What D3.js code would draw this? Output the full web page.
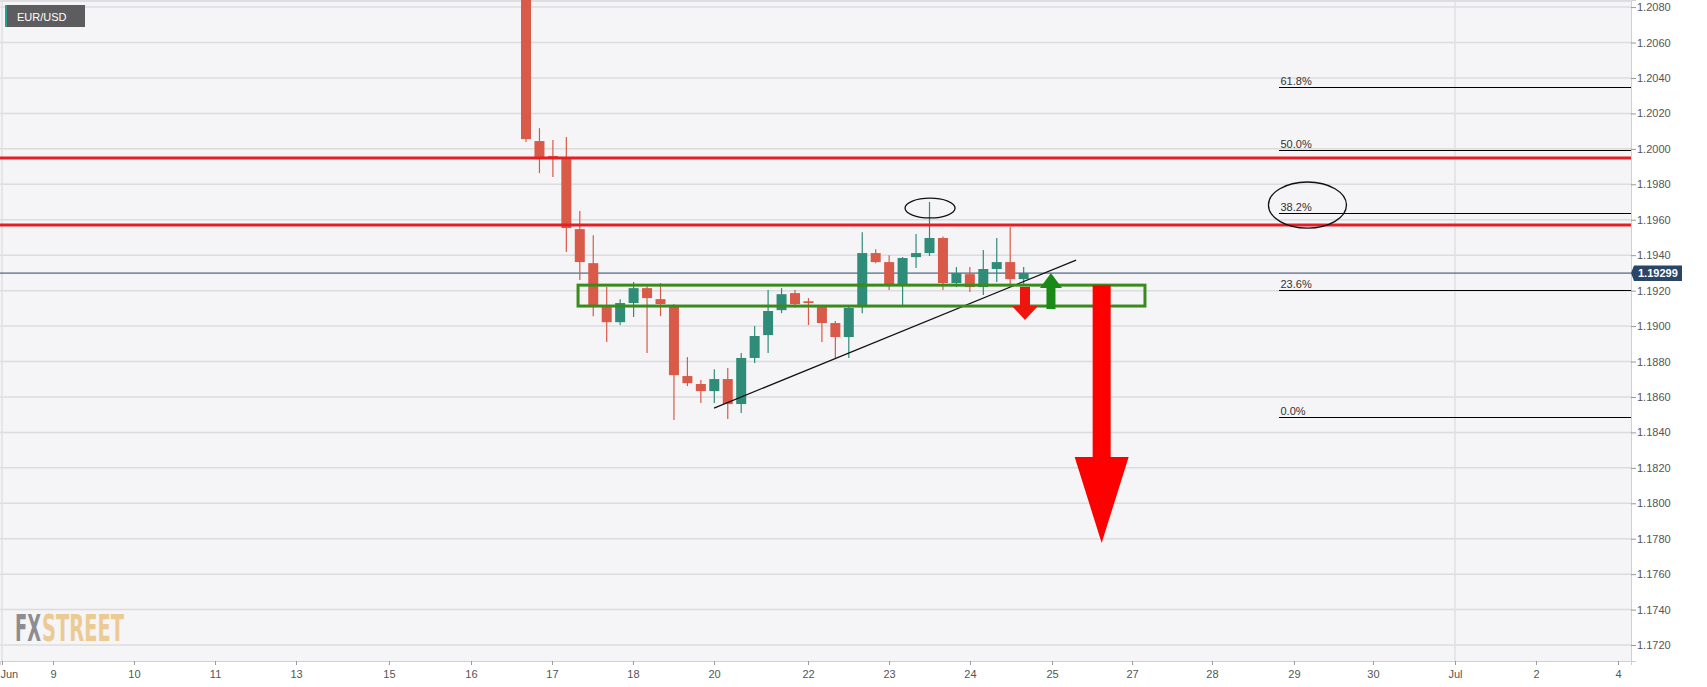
<!DOCTYPE html>
<html><head><meta charset="utf-8">
<script src="https://cdn.jsdelivr.net/npm/d3@7"></script>
<style>
body{margin:0;background:#fff;}
svg{display:block;font-family:"Liberation Sans",Arial,sans-serif;}
</style>
</head><body>
<svg id="chart" width="1707" height="687"></svg>
<script>
// ---- data (4H candles, bar index = array index) ----
const candleOpen  = [1.2125,1.20044,1.19960,1.19942,1.19547,1.19355,1.19107,1.19022,1.19130,1.19214,1.19152,1.19113,1.18718,1.18673,1.18633,1.18701,1.18560,1.18820,1.18949,1.19090,1.19186,1.19140,1.19107,1.19017,1.18938,1.19107,1.19412,1.19361,1.19231,1.19389,1.19412,1.19497,1.19243,1.19293,1.19220,1.19322,1.19361,1.19265];
const candleHigh  = [1.2130,1.20117,1.20050,1.20067,1.19649,1.19513,1.19220,1.19152,1.19248,1.19225,1.19243,1.19125,1.18825,1.18695,1.18757,1.18763,1.18848,1.19000,1.19203,1.19214,1.19203,1.19158,1.19118,1.19028,1.19107,1.19530,1.19434,1.19400,1.19390,1.19519,1.19700,1.19505,1.19333,1.19333,1.19429,1.19497,1.19559,1.19333];
const candleLow   = [1.20038,1.19863,1.19841,1.19418,1.19260,1.19056,1.18910,1.19006,1.19051,1.18848,1.19056,1.18470,1.18661,1.18566,1.18566,1.18475,1.18509,1.18791,1.18848,1.19073,1.19105,1.19006,1.18910,1.18820,1.18820,1.19073,1.19355,1.19203,1.19118,1.19327,1.19395,1.19203,1.19220,1.19192,1.19175,1.19248,1.19220,1.19231];
const candleClose = [1.20055,1.19954,1.19952,1.19553,1.19361,1.19118,1.19022,1.19130,1.19214,1.19158,1.19124,1.18723,1.18678,1.18633,1.18701,1.18560,1.18820,1.18944,1.19085,1.19180,1.19124,1.19130,1.19017,1.18938,1.19102,1.19412,1.19361,1.19231,1.19384,1.19412,1.19497,1.19243,1.19299,1.19220,1.19322,1.19361,1.19265,1.19299];

const xTickPos    = [-38.96,-35.17,-29.15,-23.12,-17.1,-10.19,-4.09,1.93,7.95,13.98,20.97,26.99,33.01,39.11,45.06,51.0,57.1,62.97,69.07,75.09,81.19];
const xTickLabels = ["Jun","9","10","11","13","15","16","17","18","20","22","23","24","25","27","28","29","30","Jul","2","4"];
const monthLines  = [-38.96, 69.07];

const yTicks = [1.1720,1.1740,1.1760,1.1780,1.1800,1.1820,1.1840,1.1860,1.1880,1.1900,1.1920,1.1940,1.1960,1.1980,1.2000,1.2020,1.2040,1.2060,1.2080];

const lastPrice = 1.19299;
const resistanceLevels = [1.19948, 1.19570];
const fibLabels = ["61.8%","50.0%","38.2%","23.6%","0.0%"];
const fibValues = [1.20349, 1.19993, 1.19638, 1.19203, 1.18487];
const fibStartBar = 56.02;

const trendStart = [13.98, 1.18537];
const trendEnd   = [40.9, 1.19372];

const zoneBars   = [3.87, 46.02];
const zonePrices = [1.19231, 1.19113];

// ellipses: [centre bar, centre price, half-width in bars, half-height in price]
const ellipseA = [30.04, 1.19666, 1.86, 0.00056];
const ellipseB = [58.1, 1.19683, 2.9, 0.0013];

// arrows: [bar, start price, tip price]
const arrowSmallDown = [37.1, 1.19220, 1.19034];
const arrowUp        = [39.03, 1.19096, 1.19299];
const arrowBigDown   = [42.8, 1.19231, 1.17776];

// ---- layout ----
const W = 1707, H = 687, plotR = 1631, plotB = 661;
const svg = d3.select("#chart");
const x = d3.scaleLinear().domain([-39.108, 82.156]).range([0, plotR]);
const y = d3.scaleLinear().domain([1.17110, 1.20840]).range([plotB, 0]);

svg.append("rect").attr("width", W).attr("height", H).attr("fill", "#ffffff");
svg.append("rect").attr("x", 0).attr("y", 0).attr("width", plotR).attr("height", plotB).attr("fill", "#f5f5f7");

svg.append("defs").append("clipPath").attr("id", "clip")
  .append("rect").attr("x", 0).attr("y", 0).attr("width", plotR).attr("height", plotB);

// gridlines
svg.append("g").selectAll("line").data(yTicks).join("line")
  .attr("x1", 0).attr("x2", plotR).attr("y1", d => y(d)).attr("y2", d => y(d))
  .attr("stroke", "#dcdcdf").attr("stroke-width", 1.5);
svg.append("g").selectAll("line").data(monthLines).join("line")
  .attr("x1", d => x(d)).attr("x2", d => x(d)).attr("y1", 0).attr("y2", plotB)
  .attr("stroke", "#e0e0e3").attr("stroke-width", 1.5);
svg.append("line").attr("x1", 0).attr("x2", plotR).attr("y1", 1).attr("y2", 1).attr("stroke", "#dddde2").attr("stroke-width", 2);

// watermark (narrowed with a transform so its real box matches the drawn width)
const wmFont = "'Liberation Sans Narrow','DejaVu Sans Condensed','Liberation Sans',sans-serif";
function wmText(str, x0, width, color) {
  const g = svg.append("g");
  const t = g.append("text").attr("x", 0).attr("y", 0).attr("font-family", wmFont)
    .attr("font-weight", "bold").attr("font-size", 37).attr("fill", color).text(str);
  const natural = t.node().getComputedTextLength();
  g.attr("transform", `translate(${x0},641) scale(${width / natural},1)`);
}
wmText("FX", 15, 26, "#8d8d91");
wmText("STREET", 42, 82, "#ebcb93");

// current price line
svg.append("line").attr("x1", 0).attr("x2", plotR).attr("y1", y(lastPrice)).attr("y2", y(lastPrice))
  .attr("stroke", "#2b4566").attr("stroke-width", 1);

// candles
const candles = candleOpen.map((o, i) => ({i, o, h: candleHigh[i], l: candleLow[i], c: candleClose[i]}));
const cg = svg.append("g").attr("clip-path", "url(#clip)");
const up = "#2f8c78", dn = "#d95a48";
cg.selectAll("line.wick").data(candles).join("line").attr("class", "wick")
  .attr("x1", d => x(d.i)).attr("x2", d => x(d.i))
  .attr("y1", d => y(d.h)).attr("y2", d => y(d.l))
  .attr("stroke", d => d.c >= d.o ? up : dn).attr("stroke-width", 1.2);
cg.selectAll("rect.body").data(candles).join("rect").attr("class", "body")
  .attr("x", d => x(d.i) - 5).attr("width", 10)
  .attr("y", d => y(Math.max(d.o, d.c)))
  .attr("height", d => Math.max(1, Math.abs(y(d.o) - y(d.c))))
  .attr("fill", d => d.c >= d.o ? up : dn);

// drawings
const dg = svg.append("g").attr("clip-path", "url(#clip)");
dg.selectAll("line.res").data(resistanceLevels).join("line").attr("class", "res")
  .attr("x1", 0).attr("x2", plotR).attr("y1", d => y(d)).attr("y2", d => y(d))
  .attr("stroke", "#e31e24").attr("stroke-width", 3);

dg.selectAll("line.fib").data(fibValues).join("line").attr("class", "fib")
  .attr("x1", x(fibStartBar)).attr("x2", plotR).attr("y1", d => Math.round(y(d)) + 0.5).attr("y2", d => Math.round(y(d)) + 0.5)
  .attr("stroke", "#000").attr("stroke-width", 1).attr("shape-rendering", "crispEdges");
dg.selectAll("text.fib").data(fibValues).join("text").attr("class", "fib")
  .attr("x", x(fibStartBar) + 1).attr("y", d => y(d) - 2)
  .attr("font-size", 11).attr("fill", "#333").text((d, k) => fibLabels[k]);

dg.append("line")
  .attr("x1", x(trendStart[0])).attr("y1", y(trendStart[1]))
  .attr("x2", x(trendEnd[0])).attr("y2", y(trendEnd[1]))
  .attr("stroke", "#111").attr("stroke-width", 1.2);

dg.append("rect")
  .attr("x", x(zoneBars[0])).attr("y", y(zonePrices[0]))
  .attr("width", x(zoneBars[1]) - x(zoneBars[0]))
  .attr("height", y(zonePrices[1]) - y(zonePrices[0]))
  .attr("fill", "none").attr("stroke", "#3b8a1c").attr("stroke-width", 3);

[ellipseA, ellipseB].forEach(e => {
  dg.append("ellipse")
    .attr("cx", x(e[0])).attr("cy", y(e[1]))
    .attr("rx", x(e[0] + e[2]) - x(e[0]))
    .attr("ry", y(e[1] - e[3]) - y(e[1]))
    .attr("fill", "none").attr("stroke", "#111").attr("stroke-width", 1.3);
});

function arrow(a, shaftHalf, headHalf, headLen, color) {
  const cx = x(a[0]), y0 = y(a[1]), yt = y(a[2]);
  const dir = yt > y0 ? 1 : -1;
  const yb = yt - dir * headLen;
  const pts = [[cx - shaftHalf, y0], [cx + shaftHalf, y0], [cx + shaftHalf, yb], [cx + headHalf, yb],
               [cx, yt], [cx - headHalf, yb], [cx - shaftHalf, yb]];
  dg.append("polygon").attr("points", pts.map(p => p.join(",")).join(" ")).attr("fill", color);
}
arrow(arrowSmallDown, 5, 13, 14, "#f0140f");
arrow(arrowUp, 4.5, 11, 15, "#1a8a17");
arrow(arrowBigDown, 9, 27, 86, "#ff0000");

// axes
const yAxis = svg.append("g").attr("transform", `translate(${plotR},0)`)
  .call(d3.axisRight(y).tickValues(yTicks).tickFormat(d3.format(".4f")).tickSize(5).tickPadding(1));
yAxis.select(".domain").attr("stroke", "#cfcfd4");
yAxis.selectAll(".tick line").attr("stroke", "#999");
yAxis.selectAll("text").attr("font-size", 11).attr("fill", "#555").attr("font-family", "'Liberation Sans',Arial,sans-serif");

const xAxis = svg.append("g").attr("transform", `translate(0,${plotB})`)
  .call(d3.axisBottom(x).tickValues(xTickPos).tickFormat((d, k) => xTickLabels[k]).tickSize(4).tickPadding(5));
xAxis.select(".domain").attr("stroke", "#cfcfd4");
xAxis.selectAll(".tick line").attr("stroke", "#999");
xAxis.selectAll("text").attr("font-size", 11).attr("fill", "#555").attr("font-family", "'Liberation Sans',Arial,sans-serif");
xAxis.selectAll(".tick").filter((d, k) => k === 0).select("text").attr("text-anchor", "start").attr("x", -2);

// last price label
const ly = y(lastPrice);
svg.append("polygon")
  .attr("points", `${plotR},${ly} ${plotR + 3},${ly - 7.5} ${plotR + 51},${ly - 7.5} ${plotR + 51},${ly + 8} ${plotR + 3},${ly + 8}`)
  .attr("fill", "#2b4566");
svg.append("text").attr("x", plotR + 7).attr("y", ly + 4).attr("font-size", 11).attr("font-weight", "bold")
  .attr("fill", "#fff").text(d3.format(".5f")(lastPrice));

// symbol label
svg.append("rect").attr("x", 5).attr("y", 5).attr("width", 80).attr("height", 22).attr("fill", "#5d5d5f");
svg.append("rect").attr("x", 5).attr("y", 5).attr("width", 2).attr("height", 22).attr("fill", "#2a9d8f");
svg.append("text").attr("x", 17).attr("y", 20.5).attr("font-size", 11).attr("fill", "#fff").text("EUR/USD");
</script>
</body></html>
